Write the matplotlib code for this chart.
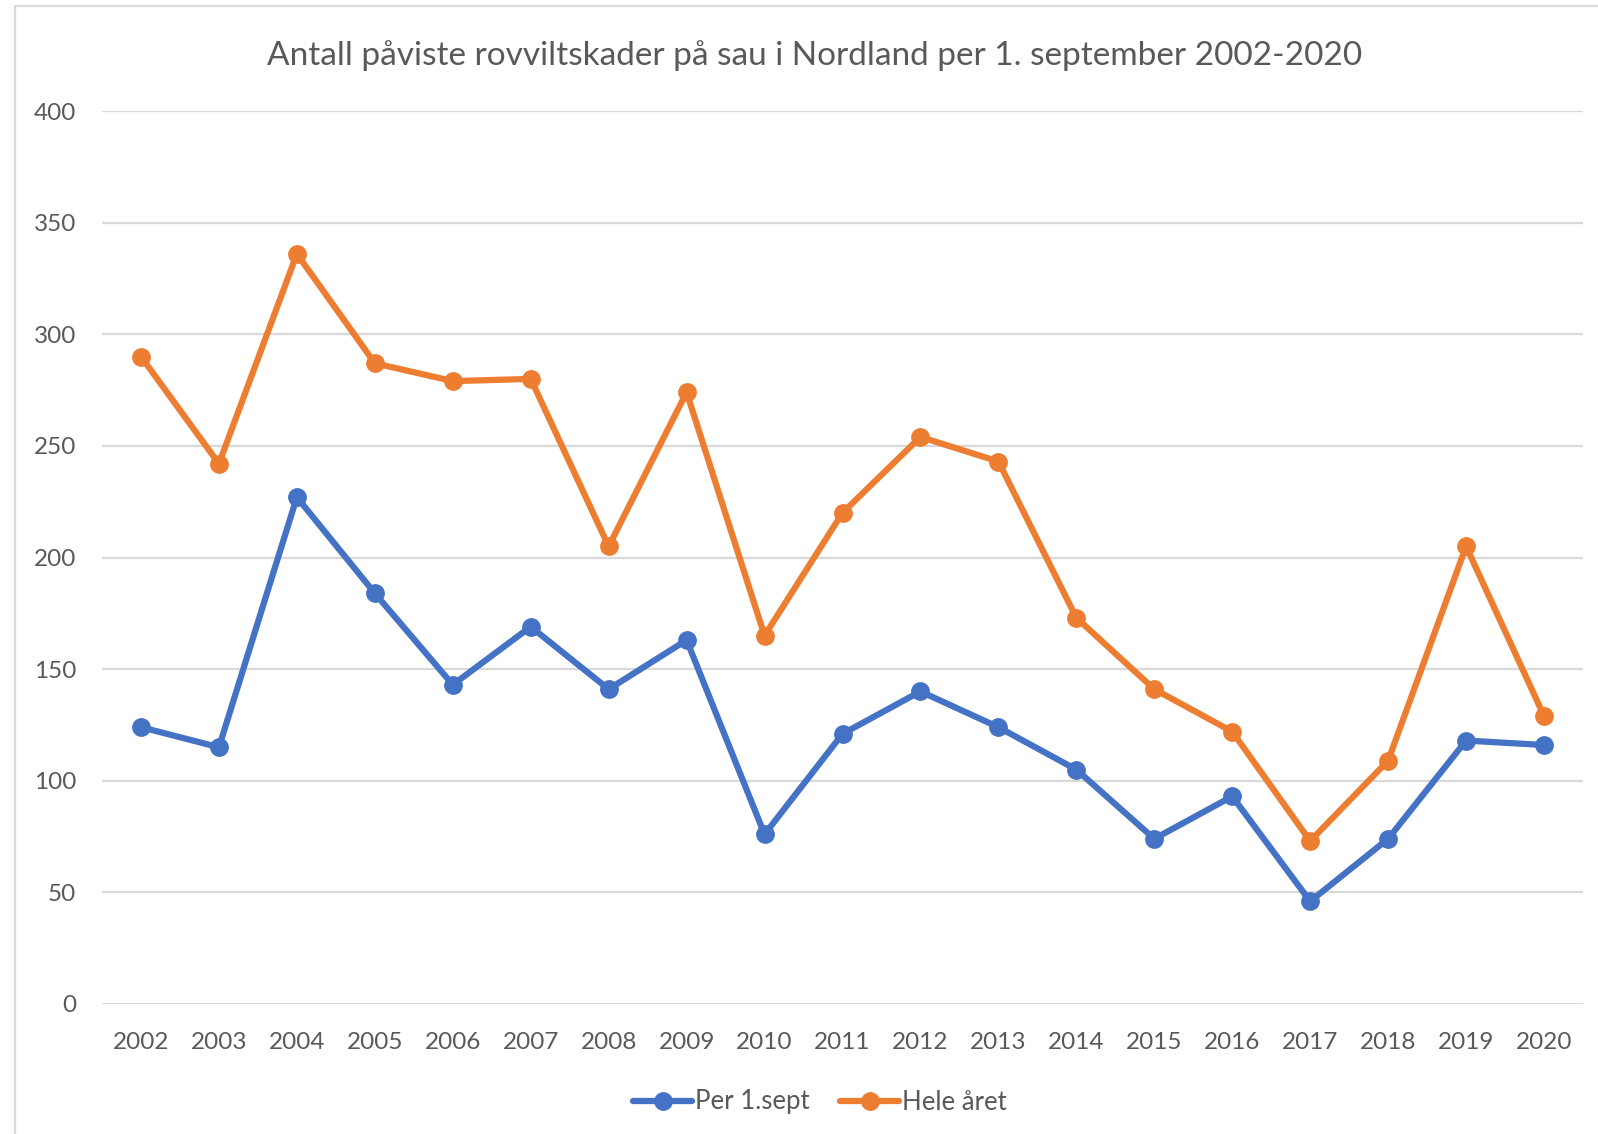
import matplotlib.pyplot as plt
from matplotlib.patches import Rectangle

# Data
years = [str(y) for y in range(2002, 2021)]
per_1_sept = [124, 115, 227, 184, 143, 169, 141, 163, 76, 121, 140, 124, 105, 74, 93, 46, 74, 118, 116]
hele_aret = [290, 242, 336, 287, 279, 280, 205, 274, 165, 220, 254, 243, 173, 141, 122, 73, 109, 205, 129]
yticks = [0, 50, 100, 150, 200, 250, 300, 350, 400]

TITLE = 'Antall påviste rovviltskader på sau i Nordland per 1. september 2002-2020'
BLUE = '#4472C4'
ORANGE = '#ED7D31'
TEXT = '#595959'
GRID = '#D9D9D9'

plt.rcParams['font.family'] = ['Lato', 'DejaVu Sans']

W, H = 1598, 1134
fig = plt.figure(figsize=(W / 100, H / 100), dpi=100)

# outer chart border (only left and top visible in the crop)
fig.patches.append(Rectangle((15 / W, -0.1), 1.2, 1 - 6 / H + 0.1, transform=fig.transFigure,
                             fill=False, edgecolor=GRID, linewidth=1.6))

ax = fig.add_axes([102 / W, 1 - 1004 / H, (1583 - 102) / W, (1004 - 111) / H])
x = list(range(len(years)))
ax.plot(x, per_1_sept, color=BLUE, lw=4.5, marker='o', ms=12.5, label='Per 1.sept',
        solid_joinstyle='round', solid_capstyle='round')
ax.plot(x, hele_aret, color=ORANGE, lw=4.5, marker='o', ms=12.5, label='Hele året',
        solid_joinstyle='round', solid_capstyle='round')

ax.set_xlim(-0.5, len(years) - 0.5)
ax.set_ylim(0, 400)
ax.set_yticks(yticks)
ax.set_xticks(x)
ax.set_xticklabels(years)
ax.yaxis.grid(True, color=GRID, lw=1.6)
ax.set_axisbelow(True)
for s in ax.spines.values():
    s.set_visible(False)
ax.tick_params(axis='both', length=0, colors=TEXT, labelsize=17.5)
ax.tick_params(axis='y', pad=18.5)
ax.tick_params(axis='x', pad=20)

fig.text(815 / W, 1 - 56 / H, TITLE, ha='center', va='center', fontsize=24, color=TEXT)

leg = fig.legend(loc='center', bbox_to_anchor=(820 / W, 1 - 1102 / H), ncol=2, frameon=False,
                 fontsize=18.5, handlelength=2.3, columnspacing=1.2, handletextpad=0.1)
for t in leg.get_texts():
    t.set_color(TEXT)

fig.savefig('out.png', dpi=100, facecolor='white')
